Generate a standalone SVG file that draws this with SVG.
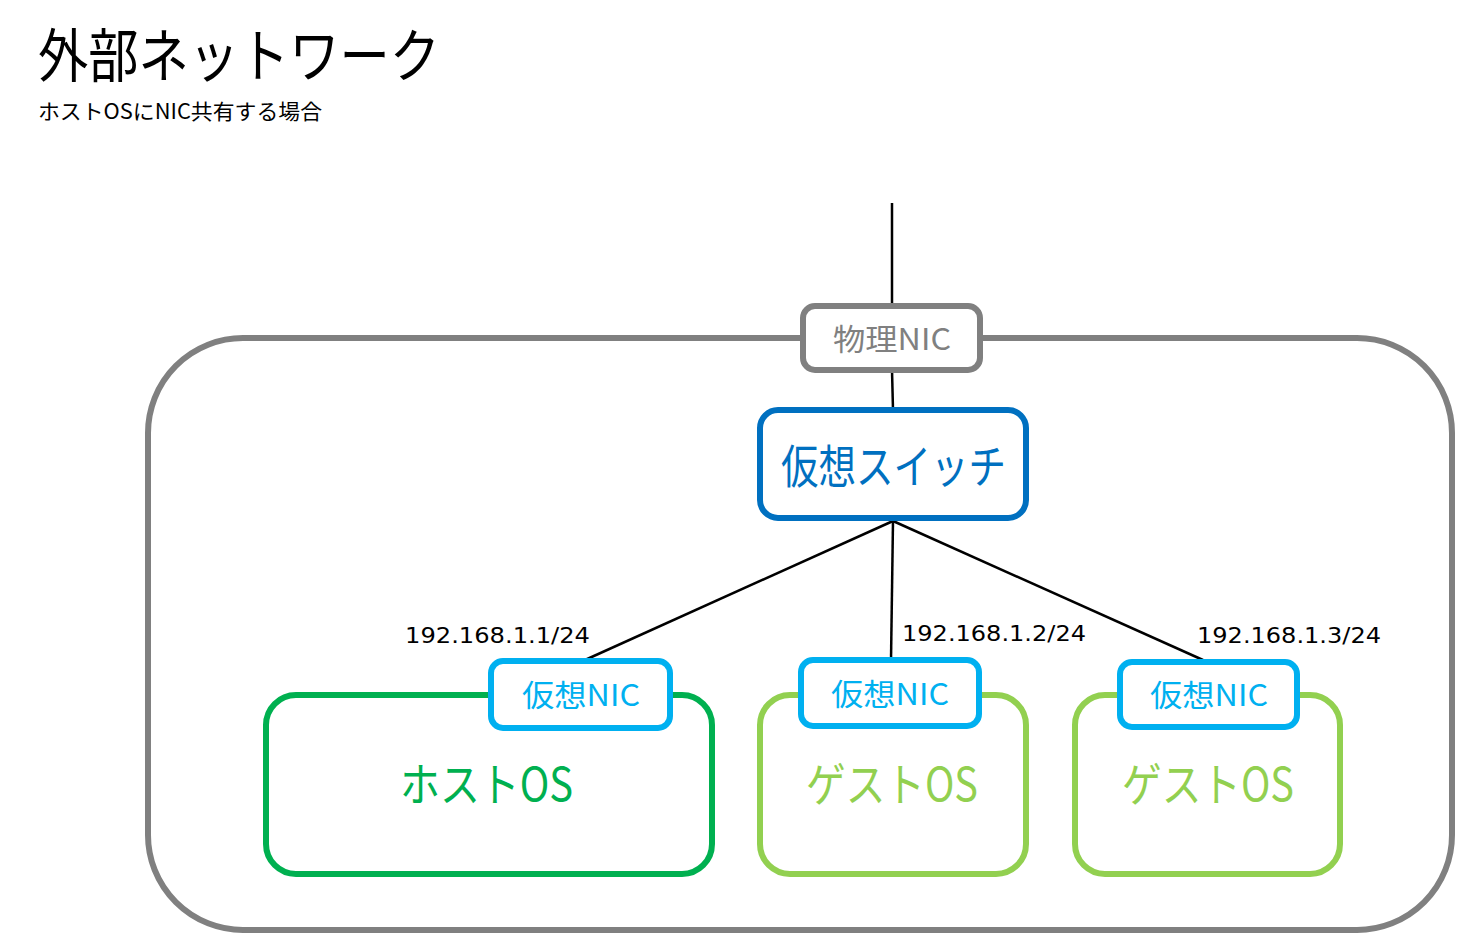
<svg xmlns="http://www.w3.org/2000/svg" width="1458" height="936" viewBox="0 0 1458 936">
<style>
.jp{font-family:"Noto Sans CJK JP","Noto Sans",sans-serif;}
.lat{font-family:"DejaVu Sans","Noto Sans CJK JP",sans-serif;}
.box{fill:#fff;stroke-width:6;}
.conn{stroke:#000;stroke-width:2.5;fill:none;}
</style>
<rect width="1458" height="936" fill="#fff"/>
<g id="title">
<text class="jp" x="38" y="77" font-size="58" textLength="402" lengthAdjust="spacingAndGlyphs">外部ネットワーク</text>
<text class="jp" x="38" y="119" font-size="21" textLength="284" lengthAdjust="spacingAndGlyphs">ホストOSにNIC共有する場合</text>
</g>
<g id="host-machine">
<rect x="148" y="338" width="1304" height="592" rx="95" ry="95" fill="none" stroke="#808080" stroke-width="6"/>
</g>
<g id="connectors">
<line class="conn" x1="892" y1="203" x2="892" y2="306"/>
<line class="conn" x1="892" y1="370" x2="893" y2="410"/>
<line class="conn" x1="893" y1="521" x2="585" y2="660"/>
<line class="conn" x1="893" y1="521" x2="891" y2="660"/>
<line class="conn" x1="893" y1="521" x2="1203" y2="660"/>
</g>
<g id="physical-nic">
<rect class="box" x="803" y="306" width="177" height="64" rx="12" stroke="#808080"/>
<text class="jp" x="833" y="350" font-size="30" fill="#808080" textLength="118" lengthAdjust="spacingAndGlyphs">物理NIC</text>
</g>
<g id="virtual-switch">
<rect class="box" x="760" y="410" width="266" height="108" rx="18" stroke="#0070C0"/>
<text class="jp" x="781" y="483" font-size="46" fill="#0070C0" textLength="225" lengthAdjust="spacingAndGlyphs">仮想スイッチ</text>
</g>
<g id="host-os">
<rect class="box" x="266" y="695" width="446" height="179" rx="30" stroke="#00B050"/>
<text class="jp" x="400" y="801" font-size="46" fill="#00B050" textLength="173" lengthAdjust="spacingAndGlyphs">ホストOS</text>
</g>
<g id="host-vnic">
<rect class="box" x="491" y="661" width="179" height="67" rx="12" stroke="#00B0F0"/>
<text class="jp" x="522" y="706" font-size="30" fill="#00B0F0" textLength="118" lengthAdjust="spacingAndGlyphs">仮想NIC</text>
<text class="lat" x="405" y="643" font-size="22" textLength="185" lengthAdjust="spacingAndGlyphs">192.168.1.1/24</text>
</g>
<g id="guest-os-1">
<rect class="box" x="760" y="695" width="266" height="179" rx="30" stroke="#92D050"/>
<text class="jp" x="806" y="801" font-size="46" fill="#92D050" textLength="172" lengthAdjust="spacingAndGlyphs">ゲストOS</text>
</g>
<g id="guest-vnic-1">
<rect class="box" x="801" y="660" width="178" height="66" rx="12" stroke="#00B0F0"/>
<text class="jp" x="831" y="705" font-size="30" fill="#00B0F0" textLength="118" lengthAdjust="spacingAndGlyphs">仮想NIC</text>
<text class="lat" x="902" y="641" font-size="22" textLength="184" lengthAdjust="spacingAndGlyphs">192.168.1.2/24</text>
</g>
<g id="guest-os-2">
<rect class="box" x="1075" y="695" width="265" height="179" rx="30" stroke="#92D050"/>
<text class="jp" x="1122" y="801" font-size="46" fill="#92D050" textLength="172" lengthAdjust="spacingAndGlyphs">ゲストOS</text>
</g>
<g id="guest-vnic-2">
<rect class="box" x="1120" y="662" width="177" height="65" rx="12" stroke="#00B0F0"/>
<text class="jp" x="1150" y="706" font-size="30" fill="#00B0F0" textLength="118" lengthAdjust="spacingAndGlyphs">仮想NIC</text>
<text class="lat" x="1197" y="643" font-size="22" textLength="184" lengthAdjust="spacingAndGlyphs">192.168.1.3/24</text>
</g>
</svg>
